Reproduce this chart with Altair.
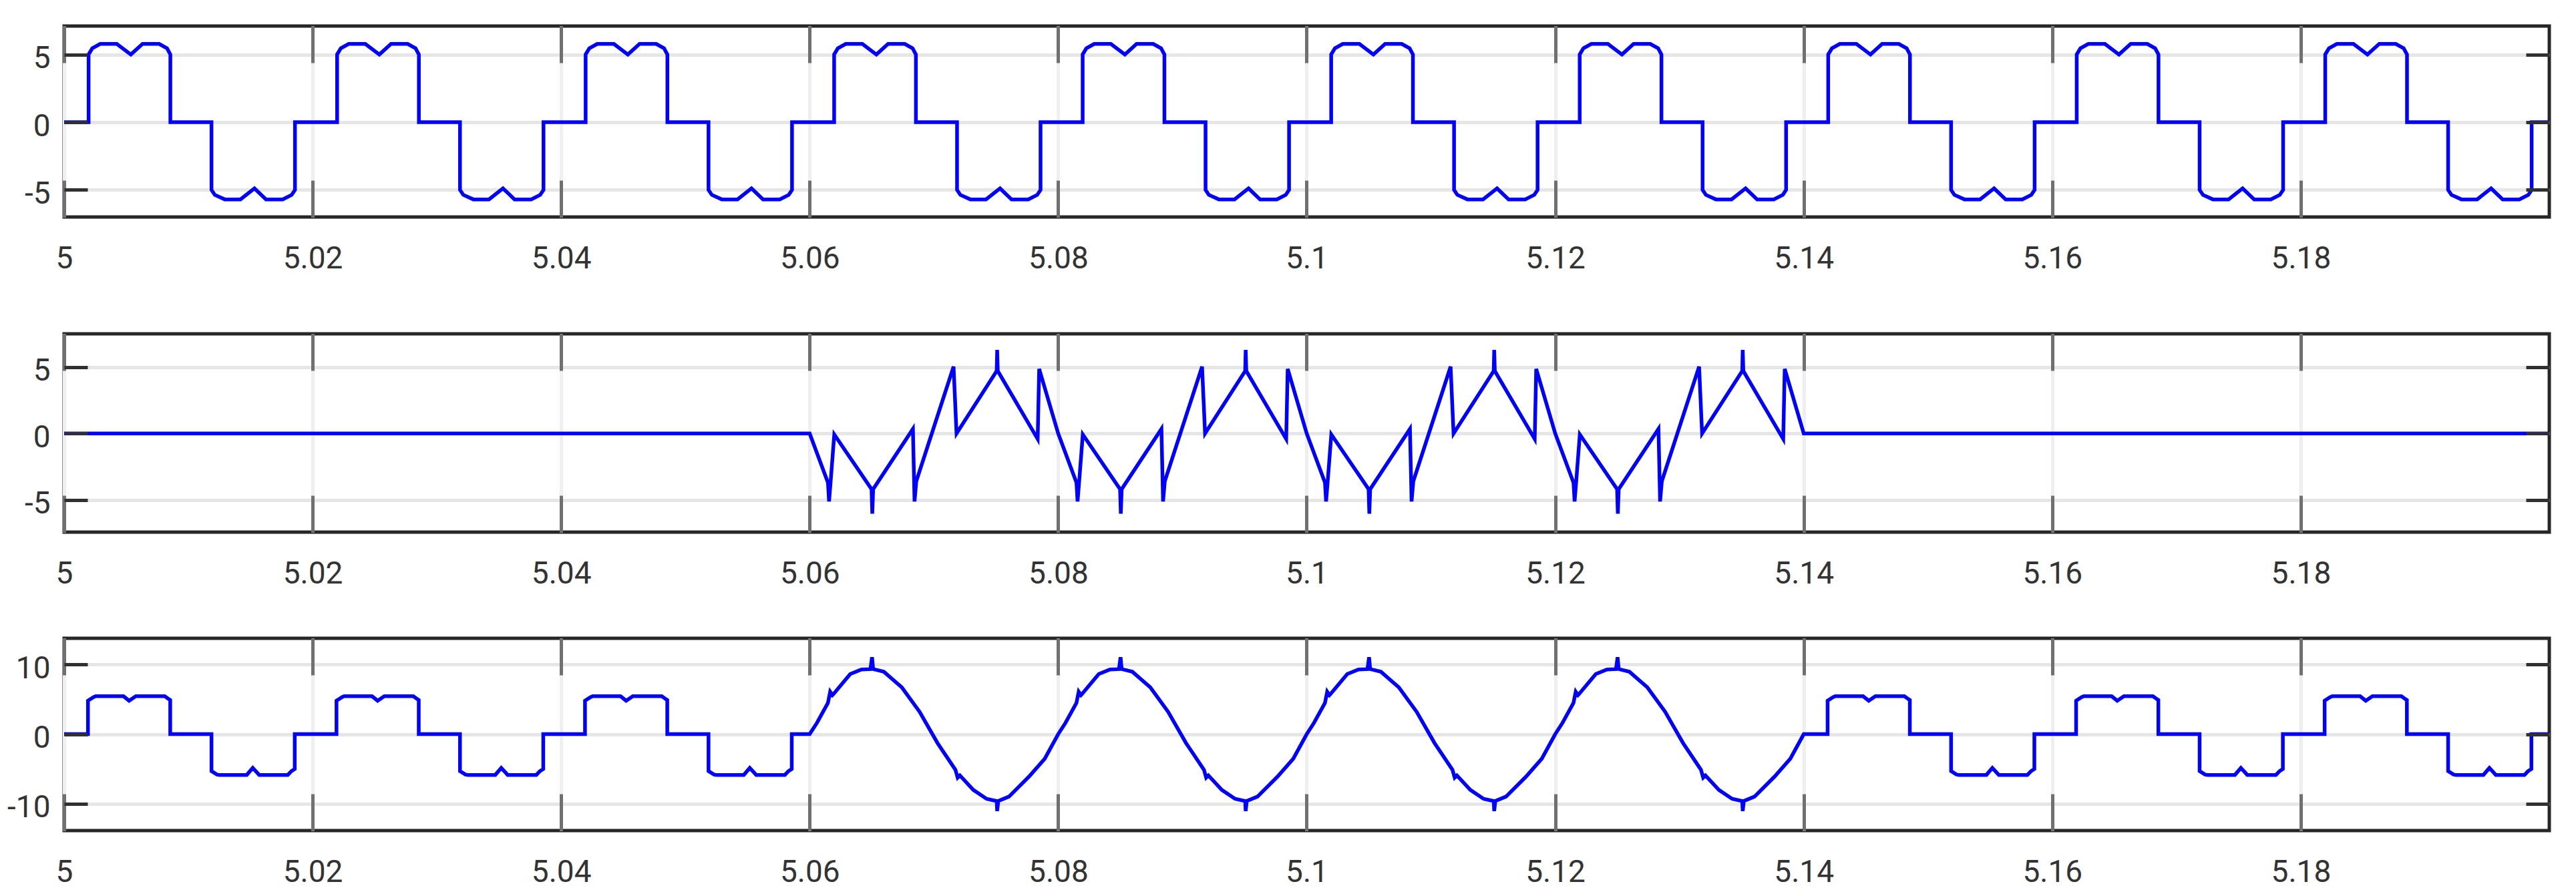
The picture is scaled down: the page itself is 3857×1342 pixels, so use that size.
import altair as alt
import pandas as pd

# ---------------- data ----------------
X_DOMAIN = [5.0, 5.2]
X_TICKS = [5.00, 5.02, 5.04, 5.06, 5.08, 5.10, 5.12, 5.14, 5.16, 5.18]
PERIOD_STARTS = [5.00, 5.02, 5.04, 5.06, 5.08, 5.10, 5.12, 5.14, 5.16, 5.18]
FILTER_STARTS = [5.06, 5.08, 5.10, 5.12]
END_T = 5.2

P1_Y_DOMAIN = [-7.0, 7.1]
P1_Y_TICKS = [-5, 0, 5]
P2_Y_DOMAIN = [-7.44, 7.51]
P2_Y_TICKS = [-5, 0, 5]
P3_Y_DOMAIN = [-13.84, 13.76]
P3_Y_TICKS = [-10, 0, 10]

# panel 1: load current, one 20 ms period (phase in s, value)
LOAD_PHASE = [0.0, 0.00197, 0.00197, 0.00227, 0.0029, 0.00424, 0.00537, 0.00631,
              0.00765, 0.00828, 0.00855, 0.00855, 0.01186, 0.01186, 0.01213, 0.01293,
              0.01419, 0.01532, 0.01625, 0.01759, 0.01831, 0.01858, 0.01858]
LOAD_VALUE = [0.0, 0.0, 5.0, 5.46, 5.78, 5.78, 5.0, 5.78,
              5.78, 5.46, 5.0, 0.0, 0.0, -5.0, -5.37, -5.7,
              -5.7, -4.89, -5.7, -5.7, -5.37, -5.0, 0.0]

# panel 2: compensating current, one period while active
FILTER_PHASE = [0.0, 0.00147, 0.00156, 0.00169, 0.00198, 0.00498, 0.00504, 0.00511,
                0.00831, 0.00844, 0.00858, 0.01158, 0.01182, 0.01505, 0.01509, 0.01514,
                0.01835, 0.01847, 0.02]
FILTER_VALUE = [0.0, -3.7, -5.13, -3.61, -0.08, -4.2, -6.05, -4.2,
                0.34, -5.13, -3.61, 5.04, 0.0, 4.71, 6.3, 4.71,
                -0.42, 4.87, 0.0]

# panel 3: source current, uncompensated period
SRC_LOAD_PHASE = [0.0, 0.00192, 0.00192, 0.00236, 0.00254, 0.00478, 0.00523, 0.00577,
                  0.0081, 0.00845, 0.00854, 0.00854, 0.01186, 0.01186, 0.0123, 0.0125,
                  0.0147, 0.01518, 0.0157, 0.018, 0.0183, 0.01856, 0.01856]
SRC_LOAD_VALUE = [0.0, 0.0, 4.8, 5.3, 5.44, 5.44, 4.8, 5.44,
                  5.44, 5.0, 4.9, 0.0, 0.0, -5.3, -5.8, -5.85,
                  -5.85, -4.85, -5.85, -5.85, -5.3, -5.0, 0.0]

# panel 3: source current, compensated period
SINE_PHASE = [0.0, 0.00058, 0.00147, 0.00165, 0.00183, 0.00192, 0.00327, 0.00417,
              0.00489, 0.00502, 0.00511, 0.00597, 0.00741, 0.00885, 0.01029, 0.01173,
              0.01191, 0.01209, 0.01317, 0.01424, 0.01505, 0.01509, 0.01518, 0.01604,
              0.01766, 0.01892, 0.02]
SINE_VALUE = [0.0, 1.6, 4.48, 6.08, 5.6, 5.76, 8.64, 9.28,
              9.34, 11.04, 9.34, 8.96, 6.72, 3.2, -1.28, -5.12,
              -6.24, -5.92, -8.0, -9.28, -9.6, -11.04, -9.6, -8.96,
              -6.08, -3.52, 0.0]


def build(kind):
    rows = []
    for s in PERIOD_STARTS:
        active = s in FILTER_STARTS
        if kind == "load":
            ph, va = LOAD_PHASE, LOAD_VALUE
        elif kind == "filter":
            ph, va = (FILTER_PHASE, FILTER_VALUE) if active else ([0.0], [0.0])
        else:
            ph, va = (SINE_PHASE, SINE_VALUE) if active else (SRC_LOAD_PHASE, SRC_LOAD_VALUE)
        for p, v in zip(ph, va):
            rows.append((s + p, v))
    rows.append((END_T, 0.0))
    return pd.DataFrame({"t": [r[0] for r in rows], "v": [r[1] for r in rows],
                         "i": list(range(len(rows)))})


FONT = "Roboto"
PLOT_W = 3721


def panel(df, ydom, yticks, h, xext):
    xs = alt.Scale(domain=X_DOMAIN, nice=False, zero=False)
    ys = alt.Scale(domain=ydom, nice=False, zero=False)
    main = alt.Chart(df).mark_line(color="#0000ff", strokeWidth=5.5).encode(
        x=alt.X("t:Q", scale=xs, axis=alt.Axis(
            orient="bottom", values=X_TICKS, format="~g", ticks=False, domain=False,
            labelPadding=40, labelFlush=False, labelOverlap=False, grid=True,
            gridColor="#efefef", gridWidth=5, title=None,
            minExtent=xext, maxExtent=xext)),
        y=alt.Y("v:Q", scale=ys, axis=alt.Axis(
            orient="left", values=yticks, labelExpr="'' + datum.value", ticks=False,
            domain=False, labelPadding=21, labelOffset=6, labelFlush=False,
            labelOverlap=False, grid=True, gridColor="#e6e6e6", gridWidth=5,
            title=None, minExtent=85, maxExtent=85)),
        order="i:Q",
    )

    def tick_layer(xo, yo):
        return alt.Chart(df).mark_line(strokeOpacity=0).encode(
            x=alt.X("t:Q", scale=xs, axis=alt.Axis(
                orient=xo, values=X_TICKS, offset=-55, tickSize=55, tickWidth=5,
                tickColor="#707070", labels=False, domain=False, grid=False,
                title=None, zindex=1)),
            y=alt.Y("v:Q", scale=ys, axis=alt.Axis(
                orient=yo, values=yticks, offset=-35, tickSize=35, tickWidth=5,
                tickColor="#303030", labels=False, domain=False, grid=False,
                title=None, zindex=1)),
            order="i:Q",
        )

    return alt.layer(main, tick_layer("top", "right"), tick_layer("bottom", "left")).resolve_axis(
        x="independent", y="independent").properties(width=PLOT_W, height=h)


p1 = panel(build("load"), P1_Y_DOMAIN, P1_Y_TICKS, 286, 117)
p2 = panel(build("filter"), P2_Y_DOMAIN, P2_Y_TICKS, 297, 101)
p3 = panel(build("source"), P3_Y_DOMAIN, P3_Y_TICKS, 288, 80)

chart = alt.vconcat(p1, p2, p3, spacing=50).properties(
    padding={"left": 0, "top": 26, "right": 0, "bottom": 0}
).configure_view(
    stroke="#262626", strokeWidth=5
).configure_axis(
    labelFont=FONT, labelFontSize=46, labelColor="#333333"
)

chart.save("out.html", embed_options={"renderer": "svg", "actions": False})
